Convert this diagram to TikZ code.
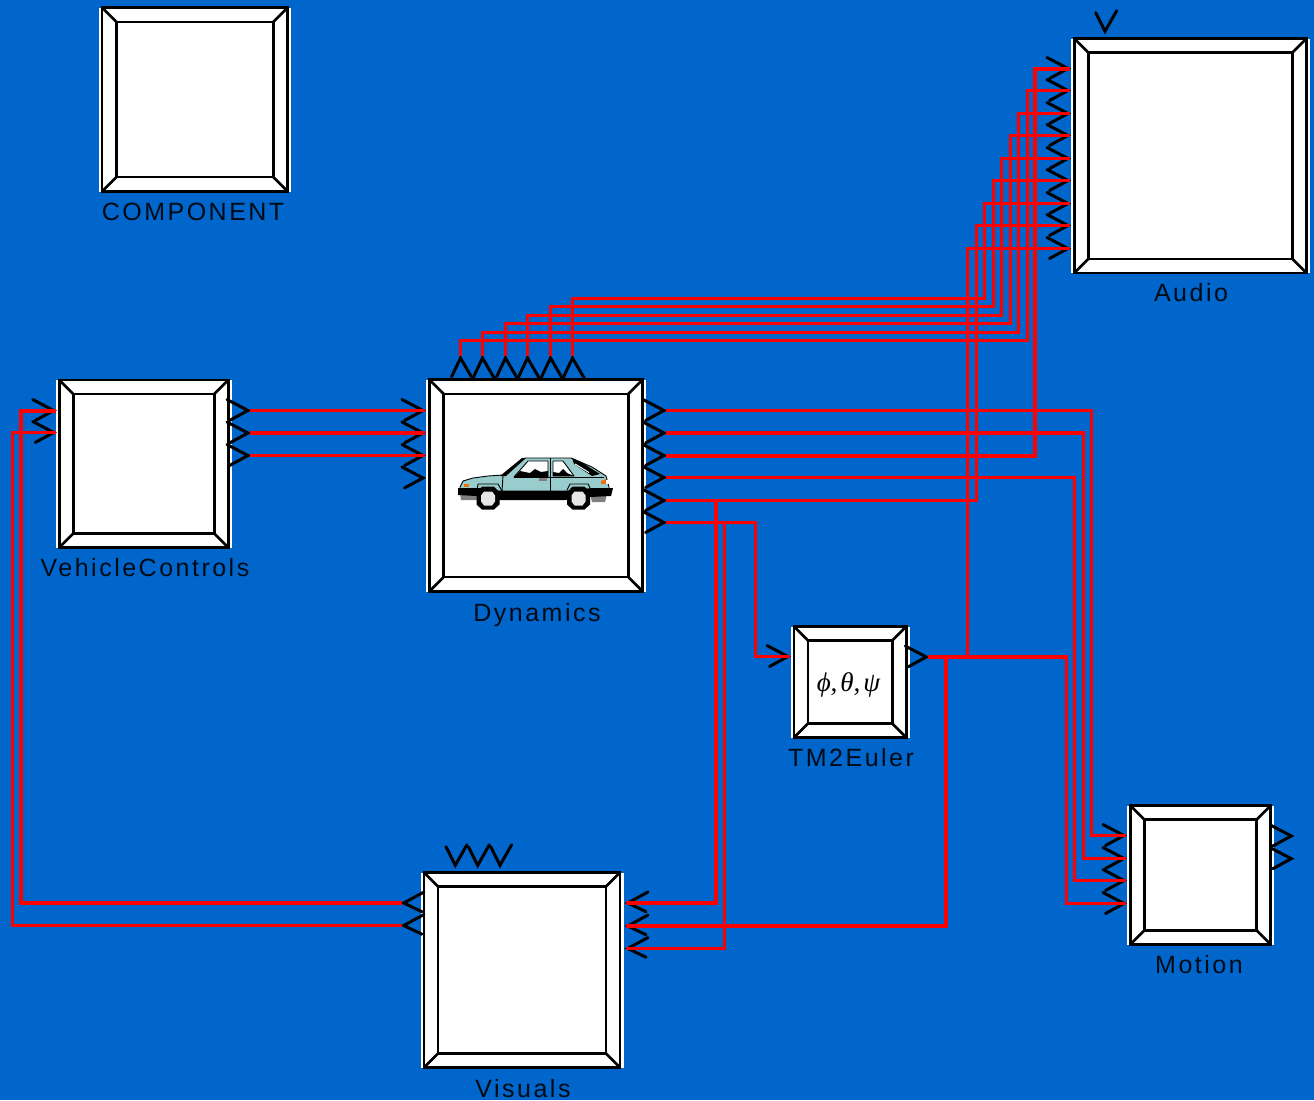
\documentclass[tikz,border=0pt]{standalone}
\usepackage{fontspec}
\setmainfont{Liberation Sans}
\newfontfamily\labelfont[LetterSpace=10]{Liberation Sans}
\newfontfamily\greekfont{Liberation Serif}
\definecolor{deskblue}{HTML}{0066CC}
\definecolor{wirered}{HTML}{FF0000}
\definecolor{carbody}{HTML}{99CCCC}
\definecolor{cargray}{HTML}{808080}
\definecolor{carhub}{HTML}{E6E6E6}
\definecolor{carlamp}{HTML}{F07010}
\tikzset{
  frameline/.style={draw=black,line width=2.7pt,fill=white,rectangle,inner sep=0pt,outer sep=0pt},
  sliver/.style={fill=white,draw=none,rectangle,inner sep=0pt,outer sep=0pt},
  miter/.style={draw=black,line width=2.7pt},
  chevron/.style={draw=black,line width=3pt,line join=miter,line cap=round},
  wire/.style={draw=wirered,line width=3.4pt,line join=miter},
  heavywire/.style={wire,line width=4pt},
  blocklabel/.style={anchor=base,inner sep=0pt,font=\labelfont\fontsize{25}{29}\selectfont,text=black!90!deskblue},
  carline/.style={draw=black,line width=0.9pt,line join=round}
}
% A block: white slivers at the sides, a black outer frame, an inner panel and mitred corners.
\newcommand{\sysblock}[6]{%
  \node[sliver,minimum width={(#4-#2)*1pt+7pt},minimum height={(#5-#3)*1pt}] at ({(#2+#4)/2},{(#3+#5)/2}) {};
  \node[frameline,minimum width={(#4-#2)*1pt},minimum height={(#5-#3)*1pt}] (#1) at ({(#2+#4)/2},{(#3+#5)/2}) {};
  \node[frameline,minimum width={(#4-#2-2*#6)*1pt},minimum height={(#5-#3-2*#6)*1pt}] (#1-in) at ({(#2+#4)/2},{(#3+#5)/2}) {};
  \foreach \c in {north west,north east,south west,south east}{\draw[miter] (#1.\c) -- (#1-in.\c);}
}
% Port chevrons: the named point is where the wire ends, the mitre of the tip reaches it.
\newcommand{\portR}[3]{\coordinate (#1) at (#2,#3); \draw[chevron,shift={(#2,#3)}] (-23,-11) -- (-2,0) -- (-20.5,10);}
\newcommand{\portL}[3]{\coordinate (#1) at (#2,#3); \draw[chevron,shift={(#2,#3)}] (22.3,-11) -- (2,0) -- (20.3,8.7);}
\newcommand{\portU}[3]{\coordinate (#1) at (#2,#3); \draw[chevron,shift={(#2,#3)}] (-9,21) -- (0,2) -- (12.4,23.3);}
\newcommand{\portD}[3]{\coordinate (#1) at (#2,#3); \draw[chevron,shift={(#2,#3)}] (-9.3,-20.6) -- (0,-2) -- (11.7,-22.6);}
\begin{document}
\begin{tikzpicture}[x=1pt,y=-1pt]
\useasboundingbox (0,0) rectangle (1314,1100);
\fill[deskblue] (0,0) rectangle (1314,1100);

% Blocks
\sysblock{comp}{102}{7.5}{287.7}{191.5}{14.5}
\sysblock{aud}{1074.3}{38.5}{1306.5}{273}{14}
\sysblock{dyn}{429.3}{379.5}{642.7}{591.5}{14.5}
\sysblock{vc}{59.3}{380}{228.3}{547.5}{14}
\sysblock{tm}{794}{626.5}{906.3}{737.5}{14}
\sysblock{mot}{1130.3}{805.5}{1270.7}{944.5}{14}
\sysblock{vis}{424}{872.5}{620}{1067.5}{14}

% Labels
\node[blocklabel] (l-comp) at (193,220) {COMPONENT};
\node[blocklabel] (l-aud) at (1191,301) {Audio};
\node[blocklabel] (l-vc) at (145,576) {VehicleControls};
\node[blocklabel] (l-dyn) at (537,621) {Dynamics};
\node[blocklabel] (l-tm) at (851,766) {TM2Euler};
\node[blocklabel] (l-mot) at (1199,973) {Motion};
\node[blocklabel] (l-vis) at (523,1097) {Visuals};
\node[anchor=center,inner sep=0pt,font=\greekfont\itshape\fontsize{27}{30}\selectfont] (euler) at (848.5,685) {ϕ,\kern3ptθ,\kern3ptψ};

% Car on the Dynamics block
\begin{scope}
  % under-tray and bumpers
  \fill[cargray] (460,494) -- (477,494) -- (477,500) -- (461,500) -- cycle;
  \fill[cargray] (590,494) -- (607,494) -- (605,502) -- (592,502) -- cycle;
  % body shell
  \filldraw[carline,fill=carbody] (460,487) -- (463,481) -- (473,478) -- (488,476) -- (503,475)
     -- (525,458) -- (571,458) -- (592,467) -- (606,476) -- (609,487) -- (609,491) -- (460,491) -- cycle;
  % sills and bumper blades
  \fill[black] (458,488) -- (480,488) -- (500,491) -- (565,491) -- (592,488) -- (613,488) -- (611,496)
     -- (590,497) -- (565,500) -- (500,500) -- (476,496) -- (458,495) -- cycle;
  % windows
  \filldraw[carline,fill=white] (528,461) -- (548,461) -- (548,477) -- (514,477) -- cycle;
  \filldraw[carline,fill=white] (553,461) -- (563,461) -- (574,476) -- (553,476) -- cycle;
  \fill[black] (514,477) -- (520,471) -- (530,473) -- (535,469) -- (541,472) -- (548,471) -- (548,477) -- cycle;
  \fill[black] (553,476) -- (553,472) -- (559,473) -- (563,469) -- (567,473) -- (574,476) -- cycle;
  \fill[black] (522,458) -- (526,458) -- (506,476) -- (500,476) -- cycle;
  \fill[black] (572,458) -- (581,462) -- (600,474) -- (592,476) -- (574,464) -- cycle;
  \draw[white,line width=1pt] (575,464) -- (589,472.5);
  % pillars, door handle and arches
  \draw[carline] (550.5,458) -- (550.5,492);
  \draw[carline] (503,475) -- (502,492);
  \draw[carline] (514,477) -- (604,477);
  \fill[cargray] (539,478) rectangle (547,481);
  \draw[carline] (477,491) -- (478,484) -- (498,484) -- (502,491);
  \draw[carline] (567,490) -- (570,484) -- (588,484) -- (591,490);
  % lamps
  \fill[carlamp] (464,484) rectangle (469,487);
  \fill[carlamp] (601,481) -- (606,479) -- (606,484) -- (601,484) -- cycle;
  \fill[white] (606,480) rectangle (609,484);
  % wheels
  \foreach \wx/\wy in {488/498.5,578.5/498.5}{
    \fill[black] (\wx-6,\wy-12) -- (\wx+6,\wy-12) -- (\wx+11.5,\wy-6) -- (\wx+11.5,\wy+6) -- (\wx+6,\wy+11) -- (\wx-6,\wy+11) -- (\wx-11.5,\wy+6) -- (\wx-11.5,\wy-6) -- cycle;
    \fill[carhub] (\wx-4,\wy-7) -- (\wx+4,\wy-7) -- (\wx+7,\wy-3) -- (\wx+7,\wy+3) -- (\wx+4,\wy+7) -- (\wx-4,\wy+7) -- (\wx-7,\wy+3) -- (\wx-7,\wy-3) -- cycle;
  }
\end{scope}

% Ports
\foreach \i/\y in {1/68.5,2/90.5,3/113.5,4/135.5,5/158.5,6/180.5,7/203.5,8/225.5,9/248.5}{\portR{aud-\i}{1070}{\y}}
\portD{aud-t}{1105}{33.3}
\foreach \i/\x in {1/460.5,2/482.5,3/505.5,4/527.5,5/550.5,6/572.5}{\portU{dyn-t\i}{\x}{356}}
\foreach \i/\y in {1/410.5,2/433,3/455.5,4/478}{\portR{dyn-i\i}{425}{\y}}
\foreach \i/\y in {1/410.5,2/433,3/455.5,4/477.5,5/500.5,6/522.5}{\portR{dyn-o\i}{666}{\y}}
\foreach \i/\y in {1/410.5,2/433,3/455.5}{\portR{vc-o\i}{250}{\y}}
\foreach \i/\y in {1/410.5,2/432.5}{\portR{vc-i\i}{55.7}{\y}}
\portR{tm-i}{790}{656.5}
\portR{tm-o}{928.3}{657}
\foreach \i/\y in {1/835.5,2/858.5,3/880.5,4/903.5}{\portR{mot-i\i}{1126}{\y}}
\foreach \i/\y in {1/836,2/858.7}{\portR{mot-o\i}{1293.3}{\y}}
\foreach \i/\y in {1/903,2/926,3/948.5}{\portL{vis-r\i}{625.7}{\y}}
\foreach \i/\y in {1/903,2/925.5}{\portL{vis-l\i}{401.7}{\y}}
\foreach \i/\x in {1/455.3,2/477.7,3/500}{\portD{vis-t\i}{\x}{867.3}}

% Tap points where one signal splits off another
\coordinate (tap-a) at (716,500.5);
\coordinate (tap-b) at (724.5,522.5);
\coordinate (tap-c) at (945.5,657);
\coordinate (tap-d) at (967.5,657);

% Signals from VehicleControls to Dynamics
\draw[wire] (vc-o1) -- (dyn-i1);
\draw[heavywire] (vc-o2) -- (dyn-i2);
\draw[wire] (vc-o3) -- (dyn-i3);

% Dynamics top row to Audio
\draw[wire] (dyn-t1) |- (1027.5,340.5) |- (aud-2);
\draw[wire] (dyn-t2) |- (1018.5,332.5) |- (aud-3);
\draw[wire] (dyn-t3) |- (1010.5,323.5) |- (aud-4);
\draw[wire] (dyn-t4) |- (1001.5,315.5) |- (aud-5);
\draw[wire] (dyn-t5) |- (993.5,306.5) |- (aud-6);
\draw[wire] (dyn-t6) |- (984.5,298.5) |- (aud-7);

% Dynamics side outputs
\draw[wire] (dyn-o1) -| (1091.5,835.5) -- (mot-i1);
\draw[wire] (dyn-o2) -| (1083.5,858.5) -- (mot-i2);
\draw[heavywire] (dyn-o3) -| (1035,68.5) -- (aud-1);
\draw[wire] (dyn-o4) -| (1074.5,880.5) -- (mot-i3);
\draw[wire] (dyn-o5) -| (976.5,225.5) -- (aud-8);
\draw[wire] (dyn-o6) -| (755.5,656.5) -- (tm-i);
\draw[heavywire] (tap-a) |- (vis-r1);
\draw[wire] (tap-b) |- (vis-r3);

% TM2Euler output
\draw[heavywire] (tm-o) -- (tap-d);
\draw[wire] (tap-d) -| (1066.5,903.5) -- (mot-i4);
\draw[wire] (tap-d) |- (aud-9);
\draw[heavywire] (tap-c) |- (vis-r2);

% Visuals back to VehicleControls
\draw[heavywire] (vis-l1) -| (21,410.5) -- (vc-i1);
\draw[wire] (vis-l2) -| (12.5,432.5) -- (vc-i2);
\end{tikzpicture}
\end{document}
